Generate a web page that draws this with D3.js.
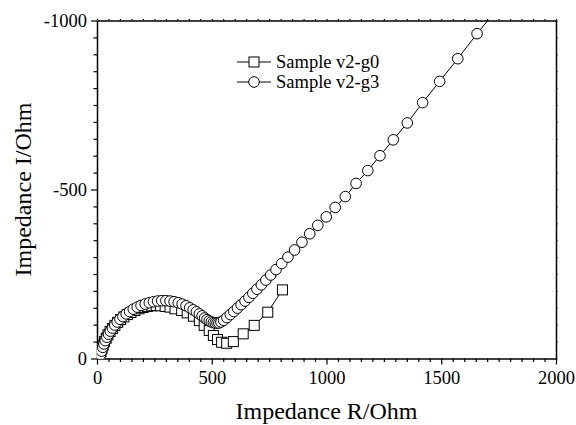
<!DOCTYPE html>
<html>
<head>
<meta charset="utf-8">
<script src="https://cdn.jsdelivr.net/npm/d3@7"></script>
<style>
body { margin:0; background:#fff; }
text { font-family: "Liberation Serif", "Times New Roman", serif; fill:#000; }
</style>
</head>
<body>
<svg id="NyquistChart"></svg>
<script>
// sample v2-g0 (squares)
var g0R = [10,13,17,22,27,33,40,48,57,67,78,90,103,117,132,148,165,183,201,220,239,258,277,297,318,340,369,393,420,446,467,489,507,525,543,565,594,637,685,744,808];
var g0I = [-2,-10,-20,-30,-40,-50,-60,-70,-80,-89,-98,-107,-115,-123,-130,-136,-142,-147,-151,-154,-156,-157,-156,-154,-152,-147,-142,-135,-125,-112,-98,-83,-68,-56,-48,-45,-50,-73,-98,-137,-203];

// sample v2-g3 (circles)
var g3R = [12,16,20,25,30,36,43,50,58,67,77,88,100,113,127,142,158,175,192,210,228,246,264,282,300,318,336,354,371,388,404,419,433,446,458,469,479,489,498,507,515,523,
           531,540,552,566,581,596,612,628,645,662,679,697,716,736,757,780,805,832,861,893,927,962,999,1038,1082,1129,1180,1233,1291,1352,1419,1493,1572,1656,1745];
var g3I = [-3,-12,-22,-33,-43,-53,-63,-72,-81,-90,-99,-108,-116,-124,-132,-139,-146,-152,-157,-161,-165,-168,-170,-171,-171,-170,-168,-165,-161,-156,-150,-144,-138,-132,-126,-120,-115,-111,-108,-106,-105,-105,
           -105,-108,-113,-121,-130,-139,-149,-159,-170,-181,-193,-205,-218,-232,-247,-263,-281,-300,-321,-344,-369,-394,-419,-447,-479,-518,-556,-600,-647,-697,-757,-820,-887,-961,-1035];

var seriesNames = ["Sample v2-g0","Sample v2-g3"];
var xTicks = [0,500,1000,1500,2000];
var yTicks = [0,-500,-1000];

var makeTranslateString = function(x,y)
{
    return "translate("+x+","+y+")";
}

var screen = {width:576, height:425}
var margins = {left:97, right:20, top:20.5, bottom:66.5}
var graph =
    {
        width:screen.width-margins.left-margins.right,
        height:screen.height-margins.top-margins.bottom
    }

var svg = d3.select("#NyquistChart")
    .attr("width",screen.width)
    .attr("height",screen.height)

var target = svg.append("g")
    .attr("transform",makeTranslateString(margins.left,margins.top))

var xScale = d3.scaleLinear()
    .domain([0,2000])
    .range([0,graph.width])

var yScale = d3.scaleLinear()
    .domain([0,-1000])
    .range([graph.height,0])

target.append("clipPath")
    .attr("id","plotClip")
    .append("rect")
    .attr("width",graph.width)
    .attr("height",graph.height)

// axes: major + minor ticks
var minorX = d3.range(0,2001,50).filter(function(d){return d%500!=0;});
var minorY = d3.range(0,-1001,-50).filter(function(d){return d%500!=0;});
var plainNum = function(d){ return String(d); }

var styleAxis = function(g)
{
    g.select(".domain").attr("stroke-width",1.5);
    g.selectAll("line").attr("stroke-width",1.2);
    g.selectAll("text").style("font-size","18.5px");
}

target.append("g")
    .attr("transform",makeTranslateString(0,graph.height))
    .call(d3.axisBottom(xScale).tickValues(xTicks).tickSize(6).tickSizeOuter(0).tickPadding(6).tickFormat(plainNum))
    .call(styleAxis)
target.append("g")
    .attr("transform",makeTranslateString(0,graph.height))
    .call(d3.axisBottom(xScale).tickValues(minorX).tickSize(3.5).tickFormat(""))
    .call(function(g){g.select(".domain").remove(); g.selectAll("line").attr("stroke-width",1.2);})

target.append("g")
    .call(d3.axisLeft(yScale).tickValues(yTicks).tickSize(6).tickSizeOuter(0).tickPadding(4).tickFormat(plainNum))
    .call(styleAxis)
target.append("g")
    .call(d3.axisLeft(yScale).tickValues(minorY).tickSize(3.5).tickFormat(""))
    .call(function(g){g.select(".domain").remove(); g.selectAll("line").attr("stroke-width",1.2);})

target.append("g")
    .call(d3.axisTop(xScale).tickValues(minorX.concat(xTicks)).tickSize(1.5).tickSizeOuter(0).tickFormat(""))
    .call(function(g){g.select(".domain").attr("stroke-width",1.5); g.selectAll("line").attr("stroke-width",1.2);})
target.append("g")
    .attr("transform",makeTranslateString(graph.width,0))
    .call(d3.axisRight(yScale).tickValues(minorY.concat(yTicks)).tickSize(1.5).tickSizeOuter(0).tickFormat(""))
    .call(function(g){g.select(".domain").attr("stroke-width",1.5); g.selectAll("line").attr("stroke-width",1.2);})

// data
var g0 = g0R.map(function(r,i){ return {r:r, im:g0I[i]}; });
var g3 = g3R.map(function(r,i){ return {r:r, im:g3I[i]}; });

var line = d3.line()
    .x(function(d){ return xScale(d.r); })
    .y(function(d){ return yScale(d.im); })

var plot = target.append("g").attr("clip-path","url(#plotClip)")

var drawSquares = function(data)
{
    plot.append("path")
        .datum(data)
        .attr("d",line)
        .attr("fill","none")
        .attr("stroke","#000")
        .attr("stroke-width",1)
    plot.selectAll(".sq")
        .data(data)
        .enter()
        .append("rect")
        .attr("x",function(d){ return xScale(d.r)-5; })
        .attr("y",function(d){ return yScale(d.im)-5; })
        .attr("width",10)
        .attr("height",10)
        .attr("fill","#fff")
        .attr("stroke","#000")
        .attr("stroke-width",1)
}

var drawCircles = function(data)
{
    plot.append("path")
        .datum(data)
        .attr("d",line)
        .attr("fill","none")
        .attr("stroke","#000")
        .attr("stroke-width",1)
    plot.selectAll(".ci")
        .data(data)
        .enter()
        .append("circle")
        .attr("cx",function(d){ return xScale(d.r); })
        .attr("cy",function(d){ return yScale(d.im); })
        .attr("r",5.3)
        .attr("fill","#fff")
        .attr("stroke","#000")
        .attr("stroke-width",1)
}

drawSquares(g0);
drawCircles(g3);

// legend
var legend = svg.append("g").attr("transform",makeTranslateString(237,62))
legend.append("line").attr("x1",0).attr("x2",34).attr("y1",0).attr("y2",0).attr("stroke","#000")
legend.append("rect").attr("x",12).attr("y",-5).attr("width",10).attr("height",10).attr("fill","#fff").attr("stroke","#000")
legend.append("text").attr("x",39).attr("y",6).style("font-size","18.5px").text(seriesNames[0])
legend.append("line").attr("x1",0).attr("x2",34).attr("y1",20).attr("y2",20).attr("stroke","#000")
legend.append("circle").attr("cx",17).attr("cy",20).attr("r",5.3).attr("fill","#fff").attr("stroke","#000")
legend.append("text").attr("x",39).attr("y",26).style("font-size","18.5px").text(seriesNames[1])

// axis titles
svg.append("text")
    .text("Impedance R/Ohm")
    .attr("text-anchor","middle")
    .attr("x",margins.left+graph.width/2)
    .attr("y",419)
    .style("font-size","24px")

svg.append("g")
    .attr("transform",makeTranslateString(31,margins.top+graph.height/2))
    .append("text")
    .text("Impedance I/Ohm")
    .attr("text-anchor","middle")
    .attr("transform","rotate(270)")
    .style("font-size","24px")
</script>
</body>
</html>
